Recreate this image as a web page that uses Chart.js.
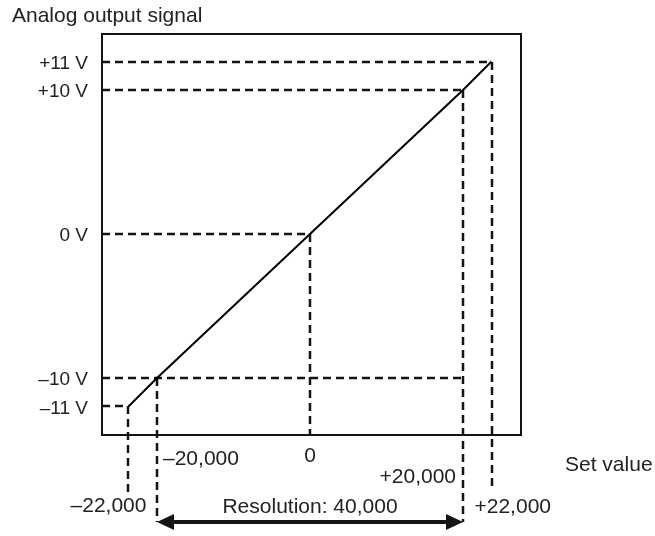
<!DOCTYPE html>
<html lang="en">
<head>
  <meta charset="UTF-8" />
  <title>Analog output signal vs set value</title>
  <script src="https://cdn.jsdelivr.net/npm/chart.js"></script>
  <style>
    html, body { margin: 0; padding: 0; background: #fff; }
    #wrap { width: 655px; height: 536px; }
  </style>
</head>
<body>
<div id="wrap"><canvas id="dacChart"></canvas></div>
<script>
  // set value -> analog output voltage
  const setValues = [-22000, -20000, 0, 20000, 22000];
  const outputVolts = [-11, -10, 0, 10, 11];
  const xTickLabels = ['–22,000', '–20,000', '0', '+20,000', '+22,000'];
  const yTickLabels = ['–11 V', '–10 V', '0 V', '+10 V', '+11 V'];
  // set value where each horizontal guide stops
  const hGuideEnd = [-22000, 20000, 0, 20000, 22000];
  const resolutionSpan = [-20000, 20000];
  const resolutionLabel = 'Resolution: 40,000';

  const FONT = "'Liberation Sans', Arial, sans-serif";
  const INK = '#141414';

  // Linear scale drawn schematically: the over-range ends (±10 -> ±11, ±20000 -> ±22000)
  // are stretched so they stay readable. Values are mapped piecewise between stops.
  class SchematicScale extends Chart.LinearScale {
    static id = 'schematic';
    static defaults = Chart.LinearScale.defaults;
    _toDecimal(value) {
      const { stops, at } = this.options;
      let i = 0;
      while (i < stops.length - 2 && value > stops[i + 1]) i++;
      const t = (value - stops[i]) / (stops[i + 1] - stops[i]);
      return at[i] + t * (at[i + 1] - at[i]);
    }
    getPixelForValue(value) {
      return this.getPixelForDecimal(this._toDecimal(value));
    }
    getValueForPixel(pixel) {
      const { stops, at } = this.options;
      const d = this.getDecimalForPixel(pixel);
      let i = 0;
      while (i < at.length - 2 && d > at[i + 1]) i++;
      return stops[i] + (d - at[i]) / (at[i + 1] - at[i]) * (stops[i + 1] - stops[i]);
    }
  }
  Chart.register(SchematicScale);

  // how far below the frame each vertical guide runs, and where its label sits
  const dropBelow = [60, 87, 0, 87, 55];
  const xLabelPlace = [
    { align: 'right',  dx: 18,  dy: 77 },
    { align: 'left',   dx: 6,   dy: 30 },
    { align: 'center', dx: 0,   dy: 27 },
    { align: 'right',  dx: -7,  dy: 48 },
    { align: 'left',   dx: -17, dy: 78 }
  ];

  const diagram = {
    id: 'diagram',
    beforeDatasetsDraw(chart) {
      const { ctx, chartArea: a, scales: { x, y } } = chart;
      ctx.save();
      ctx.strokeStyle = INK;
      ctx.lineWidth = 2.5;
      ctx.setLineDash([8, 5]);
      setValues.forEach((v, i) => {
        const px = Math.round(x.getPixelForValue(v));
        const py = Math.round(y.getPixelForValue(outputVolts[i]));
        ctx.beginPath();
        ctx.moveTo(a.left, py);
        ctx.lineTo(x.getPixelForValue(hGuideEnd[i]), py);
        ctx.stroke();
        ctx.beginPath();
        ctx.moveTo(px, py);
        ctx.lineTo(px, a.bottom + dropBelow[i]);
        ctx.stroke();
      });
      ctx.restore();
    },
    afterDraw(chart) {
      const { ctx, chartArea: a, scales: { x } } = chart;
      ctx.save();

      // frame
      ctx.strokeStyle = INK;
      ctx.lineWidth = 2;
      ctx.strokeRect(a.left, a.top, a.right - a.left, a.bottom - a.top);

      // text
      ctx.fillStyle = '#222';
      ctx.font = '21px ' + FONT;
      ctx.textBaseline = 'alphabetic';
      ctx.textAlign = 'left';
      ctx.fillText('Analog output signal', 12, 22);
      ctx.fillText('Set value', a.right + 44, a.bottom + 36);

      xTickLabels.forEach((t, i) => {
        const p = xLabelPlace[i];
        ctx.textAlign = p.align;
        ctx.fillText(t, x.getPixelForValue(setValues[i]) + p.dx, a.bottom + p.dy);
      });

      // resolution arrow
      const x1 = Math.round(x.getPixelForValue(resolutionSpan[0]));
      const x2 = Math.round(x.getPixelForValue(resolutionSpan[1]));
      const ay = a.bottom + 87;
      ctx.textAlign = 'center';
      ctx.fillText(resolutionLabel, (x1 + x2) / 2, a.bottom + 78);

      ctx.lineWidth = 4;
      ctx.beginPath();
      ctx.moveTo(x1 + 12, ay);
      ctx.lineTo(x2 - 12, ay);
      ctx.stroke();
      ctx.fillStyle = INK;
      [[x1, 1], [x2, -1]].forEach(([tip, dir]) => {
        ctx.beginPath();
        ctx.moveTo(tip, ay);
        ctx.lineTo(tip + dir * 17, ay - 8);
        ctx.lineTo(tip + dir * 17, ay + 8);
        ctx.closePath();
        ctx.fill();
      });
      ctx.restore();
    }
  };

  new Chart(document.getElementById('dacChart'), {
    type: 'line',
    data: {
      datasets: [{
        data: setValues.map((v, i) => ({ x: v, y: outputVolts[i] })),
        borderColor: '#000',
        borderWidth: 2,
        pointRadius: 0,
        tension: 0
      }]
    },
    options: {
      responsive: true,
      maintainAspectRatio: false,
      animation: false,
      layout: { padding: { top: 34, right: 134, bottom: 101, left: 0 } },
      plugins: { legend: { display: false }, tooltip: { enabled: false } },
      scales: {
        x: {
          type: 'schematic',
          display: false,
          min: -26000,
          max: 26000,
          stops: setValues,
          at: [0.0632, 0.1313, 0.4964, 0.8616, 0.9296]
        },
        y: {
          type: 'schematic',
          min: -13,
          max: 13,
          stops: outputVolts,
          at: [0.0711, 0.1421, 0.5012, 0.8603, 0.9314],
          afterFit: (s) => { s.width = 102; },
          afterBuildTicks: (s) => { s.ticks = outputVolts.map(v => ({ value: v })); },
          grid: { display: false, drawTicks: false },
          border: { display: false },
          ticks: {
            autoSkip: false,
            padding: 14,
            labelOffset: 2,
            color: '#222',
            font: { family: FONT, size: 19 },
            callback: (v) => yTickLabels[outputVolts.indexOf(v)]
          }
        }
      }
    },
    plugins: [diagram]
  });
</script>
</body>
</html>
